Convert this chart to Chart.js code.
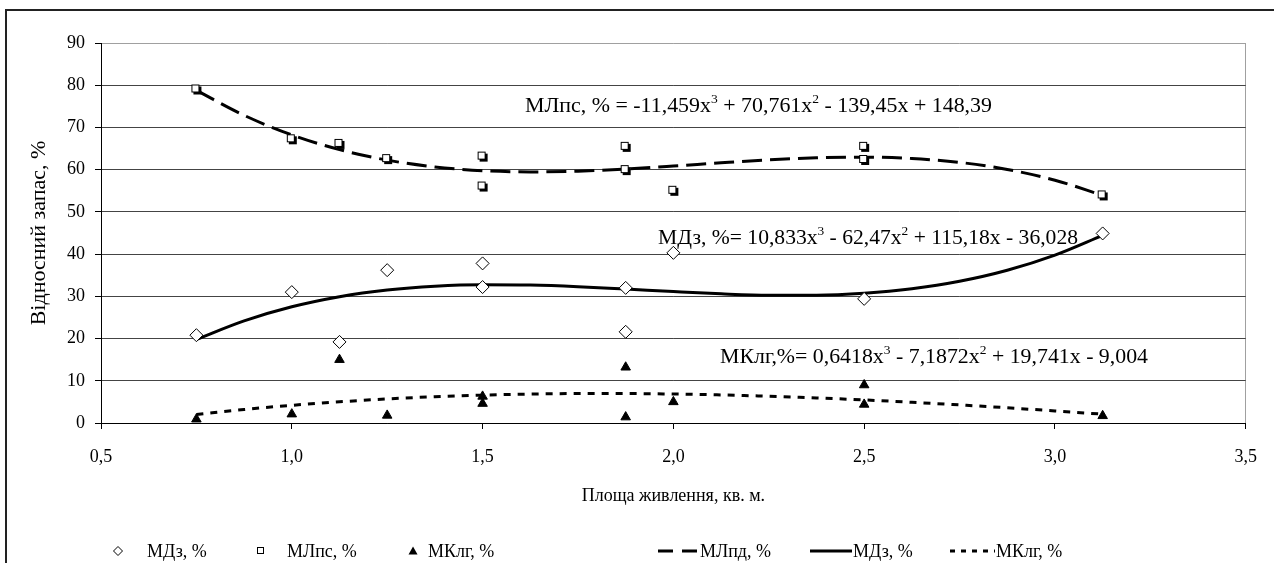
<!DOCTYPE html>
<html>
<head>
<meta charset="utf-8">
<script src="https://cdn.jsdelivr.net/npm/chart.js@4.4.1/dist/chart.umd.min.js"></script>
<style>
  html, body { margin: 0; padding: 0; background: #fff; }
  #wrap { width: 1274px; height: 563px; position: relative; }
</style>
</head>
<body>
<div id="wrap"><canvas id="c" width="1274" height="563"></canvas></div>
<script>
// ---- data ----
const mdzX  = [0.75, 1.0, 1.125, 1.25, 1.5, 1.5, 1.875, 1.875, 2.0, 2.5, 3.125];
const mdzY  = [20.8, 31.0, 19.2, 36.2, 37.8, 32.2, 32.0, 21.6, 40.3, 29.4, 44.9];

const mlpsX = [0.75, 1.0, 1.125, 1.25, 1.5, 1.5, 1.875, 1.875, 2.0, 2.5, 2.5, 3.125];
const mlpsY = [79.0, 67.2, 66.1, 62.5, 63.1, 56.0, 65.4, 59.9, 55.0, 65.4, 62.3, 53.9];

const mkX   = [0.75, 1.0, 1.125, 1.25, 1.5, 1.5, 1.875, 1.875, 2.0, 2.5, 2.5, 3.125];
const mkY   = [0.9, 2.1, 15.0, 1.8, 6.3, 4.6, 13.2, 1.4, 5.0, 9.0, 4.4, 1.7];

// trend curves
const trendX    = [0.75, 0.875, 1.0, 1.125, 1.25, 1.375, 1.5, 1.625, 1.75, 1.875, 2.0, 2.125, 2.25, 2.375, 2.5, 2.625, 2.75, 2.875, 3.0, 3.125];
const mlpsTrend = [78.77, 72.87, 68.24, 64.75, 62.26, 60.64, 59.75, 59.47, 59.65, 60.16, 60.86, 61.63, 62.33, 62.82, 62.97, 62.65, 61.72, 60.06, 57.50, 53.93];
const mdzTrend  = [19.79, 24.18, 27.52, 29.91, 31.50, 32.40, 32.75, 32.66, 32.28, 31.72, 31.12, 30.59, 30.27, 30.28, 30.75, 31.81, 33.58, 36.19, 39.77, 44.45];
const mkTrend   = [2.03, 3.20, 4.19, 5.02, 5.70, 6.22, 6.60, 6.85, 6.97, 6.97, 6.86, 6.65, 6.34, 5.94, 5.46, 4.90, 4.28, 3.60, 2.86, 2.09];

const xTicks = [0.5, 1.0, 1.5, 2.0, 2.5, 3.0, 3.5];
const yTicks = [0, 10, 20, 30, 40, 50, 60, 70, 80, 90];

const seriesNames = ['МДз, %', 'МЛпс, %', 'МКлг, %', 'МЛпд, %', 'МДз, %', 'МКлг, %'];
const xTitle = 'Площа живлення, кв. м.';
const yTitle = 'Відносний запас, %';

// equation labels: [text, superscript?]
const eqMlps = [['МЛпс, % = -11,459x', 0], ['3', 1], [' + 70,761x', 0], ['2', 1], [' - 139,45x + 148,39', 0]];
const eqMdz  = [['МДз, %= 10,833x', 0], ['3', 1], [' - 62,47x', 0], ['2', 1], [' + 115,18x - 36,028', 0]];
const eqMk   = [['МКлг,%= 0,6418x', 0], ['3', 1], [' - 7,1872x', 0], ['2', 1], [' + 19,741x - 9,004', 0]];

// ---- helpers ----
const FONT = '"Liberation Serif", "Times New Roman", serif';
const FS = 18;
const EQFS = 21;

function zip(xs, ys) { return xs.map((x, i) => ({ x: x, y: ys[i] })); }

function makeSquare() {
  const c = document.createElement('canvas');
  c.width = 12; c.height = 12;
  const g = c.getContext('2d');
  g.fillStyle = '#000';
  g.fillRect(3, 3, 8, 8);
  g.fillStyle = '#fff';
  g.fillRect(1, 1, 8, 8);
  g.strokeStyle = '#000';
  g.lineWidth = 1;
  g.strokeRect(1.5, 1.5, 7, 7);
  return c;
}
const squareImg = makeSquare();

function richWidth(ctx, parts, size) {
  let w = 0;
  for (const [t, sup] of parts) {
    ctx.font = (sup ? Math.round(size * 0.62) : size) + 'px ' + FONT;
    w += ctx.measureText(t).width;
  }
  return w;
}

function drawRich(ctx, x, y, parts, size, targetW) {
  const nat = richWidth(ctx, parts, size);
  const sx = targetW ? targetW / nat : 1;
  ctx.save();
  ctx.translate(x, y);
  ctx.scale(sx, 1);
  let cx = 0;
  ctx.textBaseline = 'alphabetic';
  ctx.textAlign = 'left';
  ctx.fillStyle = '#000';
  for (const [t, sup] of parts) {
    const s = sup ? Math.round(size * 0.62) : size;
    ctx.font = s + 'px ' + FONT;
    ctx.fillText(t, cx, sup ? -size * 0.42 : 0);
    cx += ctx.measureText(t).width;
  }
  ctx.restore();
}

const decor = {
  id: 'decor',
  beforeDraw(chart) {
    const ctx = chart.ctx;
    ctx.save();
    ctx.fillStyle = '#fff';
    ctx.fillRect(0, 0, chart.width, chart.height);
    ctx.strokeStyle = '#222';
    ctx.lineWidth = 2;
    ctx.beginPath();
    ctx.moveTo(6, 563);
    ctx.lineTo(6, 10);
    ctx.lineTo(1274, 10);
    ctx.stroke();
    ctx.restore();
  },
  afterDraw(chart) {
    const ctx = chart.ctx;
    ctx.save();
    drawRich(ctx, 525, 112, eqMlps, EQFS, 467);
    drawRich(ctx, 658, 244, eqMdz, EQFS, 420);
    drawRich(ctx, 720, 363, eqMk, EQFS, 428);

    // legend
    const ly = 551;
    ctx.font = FS + 'px ' + FONT;
    ctx.fillStyle = '#000';
    ctx.textBaseline = 'middle';
    ctx.textAlign = 'left';
    // diamond
    ctx.strokeStyle = '#000'; ctx.lineWidth = 1;
    ctx.beginPath();
    ctx.moveTo(118, ly - 4.5); ctx.lineTo(122.5, ly); ctx.lineTo(118, ly + 4.5); ctx.lineTo(113.5, ly); ctx.closePath();
    ctx.fillStyle = '#fff'; ctx.fill(); ctx.stroke();
    ctx.fillStyle = '#000';
    ctx.fillText(seriesNames[0], 147, ly + 1);
    // square
    ctx.strokeRect(257.5, ly - 3.5, 6, 6);
    ctx.fillText(seriesNames[1], 287, ly + 1);
    // triangle
    ctx.beginPath();
    ctx.moveTo(413, ly - 4.5); ctx.lineTo(417.5, ly + 3.5); ctx.lineTo(408.5, ly + 3.5); ctx.closePath();
    ctx.fill();
    ctx.fillText(seriesNames[2], 428, ly + 1);
    // dashed
    ctx.lineWidth = 3;
    ctx.setLineDash([15, 9]);
    ctx.beginPath(); ctx.moveTo(658, ly); ctx.lineTo(698, ly); ctx.stroke();
    ctx.setLineDash([]);
    ctx.fillText(seriesNames[3], 700, ly + 1);
    // solid
    ctx.beginPath(); ctx.moveTo(810, ly); ctx.lineTo(852, ly); ctx.stroke();
    ctx.fillText(seriesNames[4], 853, ly + 1);
    // dotted
    ctx.setLineDash([5, 6]);
    ctx.beginPath(); ctx.moveTo(950, ly); ctx.lineTo(995, ly); ctx.stroke();
    ctx.setLineDash([]);
    ctx.fillText(seriesNames[5], 996, ly + 1);
    ctx.restore();
  }
};

const lineCommon = {
  pointRadius: 0,
  pointHoverRadius: 0,
  showLine: true,
  fill: false,
  borderColor: '#000',
  borderWidth: 3,
  cubicInterpolationMode: 'monotone',
  order: 2
};

new Chart(document.getElementById('c'), {
  type: 'scatter',
  data: {
    datasets: [
      { label: seriesNames[0], data: zip(mdzX, mdzY), pointStyle: 'rectRot', pointRadius: 6.5, pointBackgroundColor: '#fff', pointBorderColor: '#000', pointBorderWidth: 1, order: 0 },
      { label: seriesNames[1], data: zip(mlpsX, mlpsY), pointStyle: squareImg, order: 0 },
      { label: seriesNames[2], data: zip(mkX, mkY), pointStyle: 'triangle', pointRadius: 5.5, pointBackgroundColor: '#000', pointBorderColor: '#000', pointBorderWidth: 1, order: 0 },
      Object.assign({ label: seriesNames[3], data: zip(trendX, mlpsTrend), borderDash: [20, 8] }, lineCommon),
      Object.assign({ label: seriesNames[4], data: zip(trendX, mdzTrend) }, lineCommon),
      Object.assign({ label: seriesNames[5], data: zip(trendX, mkTrend), borderDash: [7, 7] }, lineCommon)
    ]
  },
  options: {
    responsive: false,
    animation: false,
    events: [],
    layout: { padding: { left: 0, right: 28, top: 43, bottom: 48 } },
    plugins: { legend: { display: false }, tooltip: { enabled: false } },
    scales: {
      x: {
        type: 'linear',
        min: 0.5, max: 3.5,
        afterBuildTicks: (s) => { s.ticks = xTicks.map(v => ({ value: v })); },
        afterFit: (s) => { s.height = 92; },
        ticks: { color: '#000', font: { family: FONT, size: FS }, padding: 17, callback: (v) => v.toFixed(1).replace('.', ',') },
        grid: {
          color: (c) => (c.tick && c.tick.value === 3.5 ? '#a0a0a0' : 'rgba(0,0,0,0)'),
          tickColor: '#000',
          tickLength: 6,
          lineWidth: 1
        },
        border: { display: true, color: '#000', width: 1 },
        title: { display: true, text: xTitle, color: '#000', font: { family: FONT, size: FS }, padding: { top: 8, bottom: 8 } }
      },
      y: {
        type: 'linear',
        min: 0, max: 90,
        afterBuildTicks: (s) => { s.ticks = yTicks.map(v => ({ value: v })); },
        afterFit: (s) => { s.width = 101; },
        ticks: { color: '#000', font: { family: FONT, size: FS }, padding: 10 },
        grid: {
          color: (c) => (c.tick && c.tick.value === 90 ? '#a0a0a0' : '#444'),
          tickColor: '#000',
          tickLength: 6,
          lineWidth: 1
        },
        border: { display: true, color: '#000', width: 1 },
        title: { display: true, text: yTitle, color: '#000', font: { family: FONT, size: 22 }, padding: { top: 26, bottom: 0 } }
      }
    }
  },
  plugins: [decor]
});
</script>
</body>
</html>
